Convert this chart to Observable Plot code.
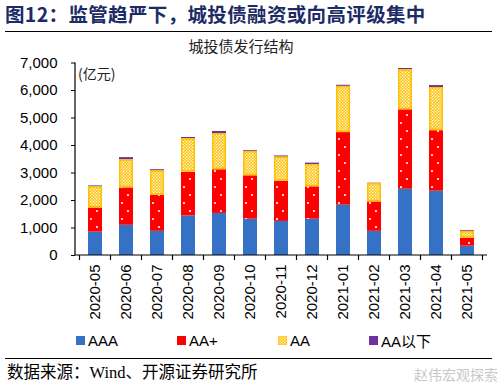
<!DOCTYPE html>
<html><head><meta charset="utf-8">
<script src="https://cdn.jsdelivr.net/npm/d3@7"></script>
<script src="https://cdn.jsdelivr.net/npm/@observablehq/plot@0.6"></script>
<style>
body{margin:0;background:#fff;}
#wrap{position:relative;width:504px;height:392px;overflow:hidden;background:#fff;font-family:"Liberation Sans",Arial,sans-serif;}
#head{position:absolute;left:5px;top:1px;font-family:"Noto Sans CJK SC",sans-serif;font-weight:700;font-size:19.5px;letter-spacing:0.35px;line-height:26px;color:#1c2b66;white-space:nowrap;}
.hr{position:absolute;left:5px;width:487px;height:0;border-top:1.2px solid #000;}
#ctitle{position:absolute;left:0;top:36px;width:482px;text-align:center;font-family:"Noto Sans CJK SC",sans-serif;font-size:15px;line-height:20px;color:#222;}
#unit{position:absolute;left:78px;top:63px;font-family:"Noto Sans CJK SC",sans-serif;font-size:14px;line-height:20px;color:#222;}
#chart{position:absolute;left:0;top:0;}
#legend .item{position:absolute;top:332px;height:16px;display:flex;align-items:center;font-size:15px;color:#000;white-space:nowrap;}
#legend svg{margin-right:3px;}
#source{position:absolute;left:7px;top:362px;font-family:"Liberation Serif","Noto Sans CJK SC",serif;font-size:16.5px;line-height:22px;color:#000;white-space:nowrap;}
#wm{position:absolute;left:414px;top:364px;font-family:"Noto Sans CJK SC",sans-serif;font-size:14px;color:#c8c8c8;white-space:nowrap;}
</style></head><body>
<div id="wrap">
  <div id="head">图12：监管趋严下，城投债融资或向高评级集中</div>
  <div class="hr" style="top:30.5px"></div>
  <div id="ctitle">城投债发行结构</div>
  <div id="chart"></div>
  <div id="unit">(亿元)</div>
  <div id="legend"></div>
  <div class="hr" style="top:357.5px"></div>
  <div id="source">数据来源：Wind、开源证券研究所</div>
  <div id="wm">赵伟宏观探索</div>
</div>
<script>
// ---- data ----
const months = ["2020-05","2020-06","2020-07","2020-08","2020-09","2020-10","2020-11","2020-12","2021-01","2021-02","2021-03","2021-04","2021-05"];
const series = ["AAA","AA+","AA","AA以下"];
const valAAA   = [850,1100,880,1440,1530,1320,1240,1320,1830,880,2410,2340,340];
const valAAp   = [880,1360,1310,1590,1590,1580,1460,1180,2640,1070,2890,2200,290];
const valAA    = [770,1020,890,1220,1310,880,880,810,1680,670,1460,1570,250];
const valBelow = [30,80,40,40,80,30,40,50,40,10,40,70,30];
const yTicks = [0,1000,2000,3000,4000,5000,6000,7000];

const seriesValues = [valAAA, valAAp, valAA, valBelow];
const data = [];
months.forEach((m, i) => series.forEach((s, j) => data.push({month: m, rating: s, value: seriesValues[j][i]})));

const fills = ["#3572c6", "url(#pAAplus)", "url(#pAA)", "#7030a0"];
const legendFills = ["#3572c6", "#ff0000", "url(#pAA)", "#7030a0"];

// render mark: pattern defs + axis lines + band-boundary ticks
function frameMark(index, scales, values, dims) {
  const x = scales.x, y = scales.y;
  const bw = typeof x.bandwidth === "function" ? x.bandwidth() : x.bandwidth;
  const step = x(months[1]) - x(months[0]);
  const gap = (step - bw) / 2;
  const g = d3.create("svg:g");
  const defs = g.append("defs");
  // AA+ : red with white dots
  const p1 = defs.append("pattern").attr("id", "pAAplus").attr("patternUnits", "userSpaceOnUse")
    .attr("width", step).attr("height", 16)
    .attr("patternTransform", `translate(${x(months[0]) + bw / 2},${y(0)})`);
  p1.append("rect").attr("width", step).attr("height", 16).attr("fill", "#ff0000");
  p1.append("circle").attr("cx", 2).attr("cy", 4).attr("r", 1.1).attr("fill", "#fff");
  p1.append("circle").attr("cx", step - 4).attr("cy", 12).attr("r", 1.1).attr("fill", "#fff");
  // AA : yellow checker
  const p2 = defs.append("pattern").attr("id", "pAA").attr("patternUnits", "userSpaceOnUse")
    .attr("width", 3).attr("height", 3);
  p2.append("rect").attr("width", 3).attr("height", 3).attr("fill", "#ffc000");
  p2.append("rect").attr("width", 1.3).attr("height", 1.3).attr("fill", "#ffffff");
  p2.append("rect").attr("x", 1.5).attr("y", 1.5).attr("width", 1.3).attr("height", 1.3).attr("fill", "#ffffff");
  const left = dims.marginLeft, right = dims.width - dims.marginRight;
  const y0 = y(0), yTop = y(yTicks[yTicks.length - 1]);
  const lines = g.append("g").attr("stroke", "#000").attr("stroke-width", 1.2).attr("fill", "none");
  lines.append("line").attr("x1", left).attr("x2", left).attr("y1", yTop).attr("y2", y0);
  lines.append("line").attr("x1", left).attr("x2", right).attr("y1", y0).attr("y2", y0);
  const bounds = months.map(m => x(m) - gap).concat([x(months[months.length - 1]) + bw + gap]);
  bounds.forEach(b => lines.append("line").attr("x1", b).attr("x2", b).attr("y1", y0).attr("y2", y0 + 5));
  return g.node();
}

const chart = Plot.plot({
  width: 504, height: 330,
  marginTop: 62.5, marginBottom: 75, marginLeft: 75, marginRight: 17,
  style: {fontFamily: '"Liberation Sans", Arial, sans-serif', fontSize: "15px", color: "#000", background: "transparent", overflow: "visible"},
  x: {domain: months, paddingInner: 0.56, paddingOuter: 0.28, tickSize: 0, tickPadding: 9, tickRotate: -90, label: null},
  y: {domain: [0, 7000], ticks: yTicks, tickFormat: d3.format(","), tickSize: 4, tickPadding: 14, label: null},
  color: {type: "ordinal", domain: series, range: fills},
  marks: [
    Plot.barY(data, Plot.stackY({x: "month", y: "value", z: "rating", order: series, fill: "rating", inset: 0})),
    Plot.barY(data, Plot.filter(d => d.rating === "AA", Plot.stackY({x: "month", y: "value", z: "rating", order: series, fill: "none", stroke: "#ffc000", strokeWidth: 1.5, inset: 0.75}))),
    frameMark
  ]
});
document.getElementById("chart").appendChild(chart);

// legend
const legend = d3.select("#legend");
const legendX = [76, 177, 278, 369];
series.forEach((s, i) => {
  const item = legend.append("div").attr("class", "item").style("left", legendX[i] + "px");
  const sw = item.append("svg").attr("width", 9).attr("height", 9);
  sw.append("rect").attr("width", 9).attr("height", 9).attr("fill", legendFills[i])
    .attr("stroke", s === "AA" ? "#ffc000" : "none").attr("stroke-width", 1);
  item.append("span").text(s).style("font-family", s === "AA以下" ? '"Liberation Sans","Noto Sans CJK SC",sans-serif' : null);
});
</script>
</body></html>
